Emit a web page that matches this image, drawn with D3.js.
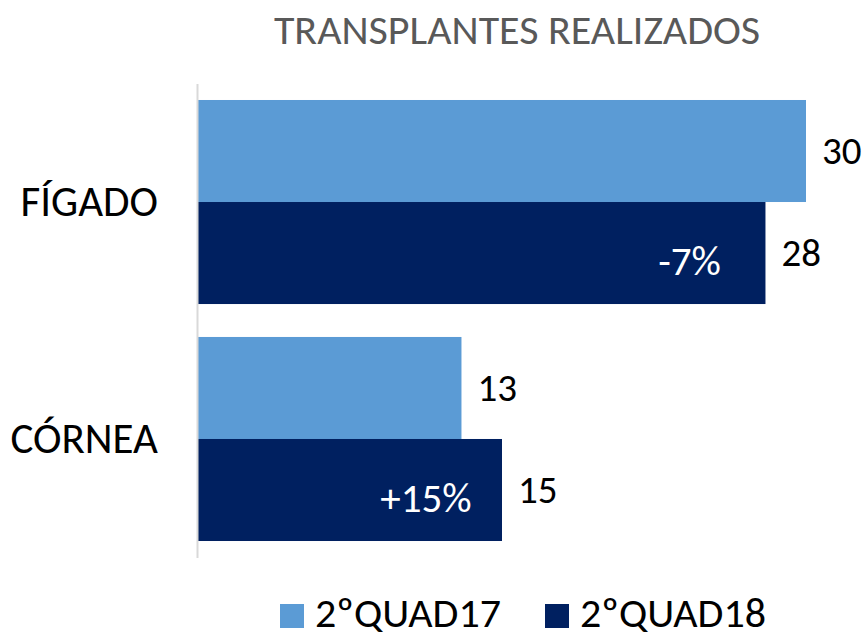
<!DOCTYPE html>
<html>
<head>
<meta charset="utf-8">
<script src="https://cdn.jsdelivr.net/npm/d3@7"></script>
<style>
  body { margin: 0; background: #fff; }
  text { font-family: Carlito, Calibri, Lato, sans-serif; }
</style>
</head>
<body>
<script>
// Chart data
const categories = ["FÍGADO", "CÓRNEA"];
const seriesNames = ["2ºQUAD17", "2ºQUAD18"];
const values17 = [30, 13];
const values18 = [28, 15];
const changeLabels = ["-7%", "+15%"];
const title = "TRANSPLANTES REALIZADOS";

const colors = ["#5b9bd5", "#002060"];
const fontFam = "Carlito, Calibri, Lato, sans-serif";

const W = 867, H = 632;
const svg = d3.select("body").append("svg")
  .attr("width", W)
  .attr("height", H);

// scales
const x = d3.scaleLinear()
  .domain([0, d3.max(values17.concat(values18))])
  .range([198, 806]);

const y = d3.scaleBand()
  .domain(categories)
  .range([83.5, 557.5])
  .paddingInner(0.139)
  .paddingOuter(0.0696);

const ySub = d3.scaleBand()
  .domain(seriesNames)
  .range([0, y.bandwidth()]);

const rows = categories.map((c, i) => ({
  cat: c,
  vals: [values17[i], values18[i]],
  change: changeLabels[i]
}));

// title
svg.append("text")
  .attr("x", 517)
  .attr("y", 44)
  .attr("text-anchor", "middle")
  .attr("fill", "#595959")
  .attr("font-size", 42)
  .text(title);

// bars
const groups = svg.selectAll(".grp")
  .data(rows)
  .join("g")
  .attr("class", "grp")
  .attr("transform", d => `translate(0, ${y(d.cat)})`);

groups.selectAll("rect")
  .data(d => d.vals.map((v, j) => ({ s: seriesNames[j], v: v, j: j })))
  .join("rect")
  .attr("x", x(0))
  .attr("y", d => ySub(d.s))
  .attr("width", d => x(d.v) - x(0))
  .attr("height", ySub.bandwidth())
  .attr("fill", d => colors[d.j]);

// value labels
groups.selectAll(".val")
  .data(d => d.vals.map((v, j) => ({ s: seriesNames[j], v: v })))
  .join("text")
  .attr("class", "val")
  .attr("x", d => x(d.v) + 16)
  .attr("y", d => ySub(d.s) + ySub.bandwidth() / 2)
  .attr("dy", "0.33em")
  .attr("font-size", 39)
  .attr("fill", "#000")
  .text(d => d.v);

// change labels inside the 2018 bars
groups.append("text")
  .attr("x", d => x(d.vals[1]) - 76)
  .attr("y", ySub(seriesNames[1]) + ySub.bandwidth() / 2 + 8)
  .attr("dy", "0.33em")
  .attr("text-anchor", "middle")
  .attr("font-size", 41)
  .attr("fill", "#fff")
  .text(d => d.change);

// category axis
const yAxis = svg.append("g")
  .attr("transform", "translate(197,0)")
  .call(d3.axisLeft(y).tickSize(0).tickSizeOuter(0).tickPadding(39));

yAxis.select(".domain")
  .attr("stroke", "#d9d9d9")
  .attr("stroke-width", 2);

yAxis.selectAll(".tick text")
  .attr("font-size", 43)
  .attr("font-family", fontFam)
  .attr("fill", "#000");

// legend
const legend = svg.append("g").attr("class", "legend");
const legendX = [280, 545];
seriesNames.forEach((s, i) => {
  const g = legend.append("g").attr("transform", `translate(${legendX[i]}, 604)`);
  g.append("rect")
    .attr("width", 24)
    .attr("height", 24)
    .attr("fill", colors[i]);
  g.append("text")
    .attr("x", 35)
    .attr("y", 23)
    .attr("font-size", 42)
    .attr("fill", "#000")
    .text(s);
});
</script>
</body>
</html>
